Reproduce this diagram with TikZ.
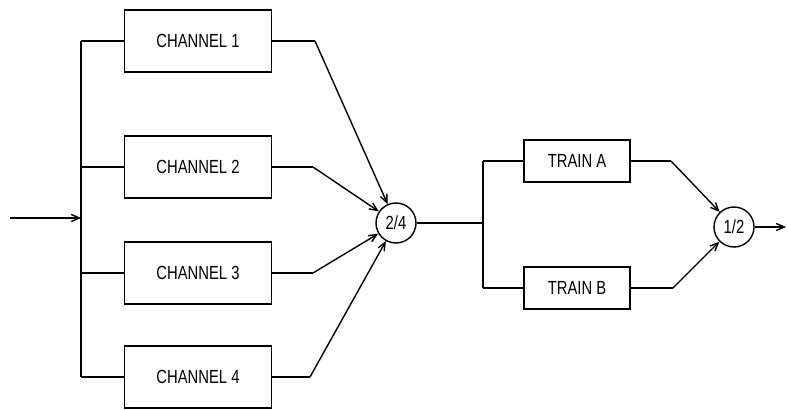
\documentclass[tikz,border=0pt]{standalone}
\usepackage{fontspec}
\setmainfont[FakeStretch=0.78]{Liberation Sans}
\usetikzlibrary{positioning}
\usetikzlibrary{arrows.meta}

\begin{document}
\begin{tikzpicture}[x=1pt,y=1pt,on grid,line width=1.4pt,
    >={Straight Barb[length=8pt,width=7pt]},
    every node/.style={font=\fontsize{19}{19}\selectfont},
    chan/.style={draw,rectangle,minimum width=147pt,minimum height=62pt,inner sep=0pt},
    train/.style={draw,rectangle,minimum width=106pt,minimum height=42pt,inner sep=0pt},
    gate/.style={draw,circle,minimum size=40pt,inner sep=0pt}]

        \useasboundingbox (0,0) rectangle (788,410);

        \node[gate]  (k24) at (396,187) {2/4};

        \node[chan]  (ch1) at (198,369) {CHANNEL 1};
        \node[chan]  (ch2) [below=126pt of ch1] {CHANNEL 2};
        \node[chan]  (ch3) [below=106pt of ch2] {CHANNEL 3};
        \node[chan]  (ch4) [below=104pt of ch3] {CHANNEL 4};

        \node[train] (trA) [above right=62pt and 181pt of k24] {TRAIN A};
        \node[train] (trB) [below=127pt of trA] {TRAIN B};

        \node[gate]  (k12) [right=338pt of k24, yshift=-4pt] {1/2};

        % input bus
        \coordinate[left=117pt of ch1] (bt);
        \coordinate[left=117pt of ch2] (b2);
        \coordinate[left=117pt of ch3] (b3);
        \coordinate[left=117pt of ch4] (b4);
        \coordinate (in) at (10,192);
        \coordinate (bin) at (bt |- in);

        % channel outputs
        \coordinate[right=117pt of ch1] (c1);
        \coordinate[right=115pt of ch2] (c2);
        \coordinate[right=115pt of ch3] (c3);
        \coordinate[right=112pt of ch4] (c4);

        % train bus and outputs
        \coordinate[left=94pt of trA] (ba);
        \coordinate[left=94pt of trB] (bb);
        \coordinate (bk) at (ba |- k24);
        \coordinate[right=94pt of trA] (ca);
        \coordinate[right=96pt of trB] (cb);
        \coordinate[right=52pt of k12] (out);

        \path [-]
          (bt) edge [] node[] {} (b4)
          (bt) edge [] node[] {} (ch1)
          (b2) edge [] node[] {} (ch2)
          (b3) edge [] node[] {} (ch3)
          (b4) edge [] node[] {} (ch4)

          (ch1) edge [] node[] {} (c1)
          (ch2) edge [] node[] {} (c2)
          (ch3) edge [] node[] {} (c3)
          (ch4) edge [] node[] {} (c4)

          (k24) edge [] node[] {} (bk)
          (ba) edge [] node[] {} (bb)
          (ba) edge [] node[] {} (trA)
          (bb) edge [] node[] {} (trB)

          (trA) edge [] node[] {} (ca)
          (trB) edge [] node[] {} (cb);

        \path [->]
          (in) edge [] node[] {} (bin)

          (c1) edge [] node[] {} (k24)
          (c2) edge [] node[] {} (k24)
          (c3) edge [] node[] {} (k24)
          (c4) edge [] node[] {} (k24)

          (ca) edge [] node[] {} (k12)
          (cb) edge [] node[] {} (k12)

          (k12) edge [] node[] {} (out);

\end{tikzpicture}
\end{document}
